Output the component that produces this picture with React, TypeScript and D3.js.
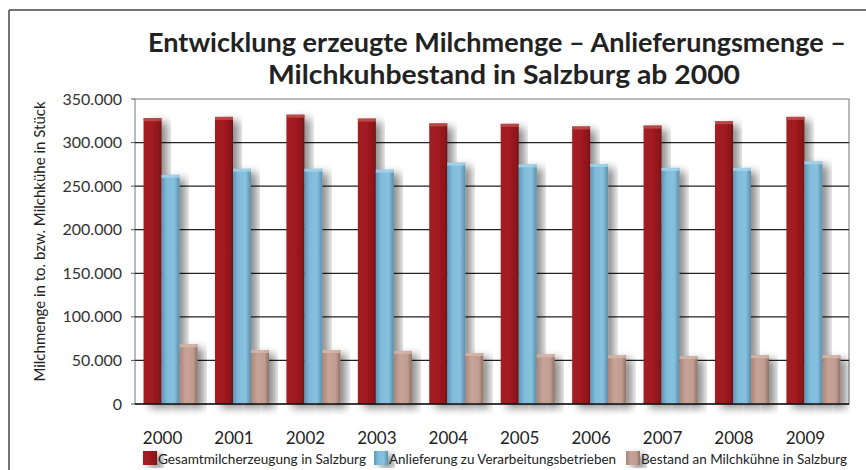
import React from "react";
import * as d3 from "d3";

const years = ["2000", "2001", "2002", "2003", "2004", "2005", "2006", "2007", "2008", "2009"];
const gesamt = [328000, 329500, 332000, 327500, 322000, 321500, 318500, 319500, 324500, 329500];
const anlieferung = [263000, 270000, 270000, 269000, 277000, 275000, 275500, 271000, 271000, 278500];
const bestand = [68500, 62000, 62000, 61000, 58500, 57000, 56000, 55000, 56000, 56000];
const seriesNames = [
  "Gesamtmilcherzeugung in Salzburg",
  "Anlieferung zu Verarbeitungsbetrieben",
  "Bestand an Milchkühne in Salzburg",
];
const yTicks = [0, 50000, 100000, 150000, 200000, 250000, 300000, 350000];

const W = 866;
const H = 470;
const margin = { top: 99, right: 17, bottom: 66, left: 135 };
const font = "Lato, 'Open Sans', sans-serif";

const fmt = (v: number) => d3.format(",")(v).replace(/,/g, ".");

const App = () => {
  const width = W - margin.left - margin.right;
  const height = H - margin.top - margin.bottom;

  const x0 = d3.scaleBand<string>().domain(years).range([0, width]).paddingInner(0.244).paddingOuter(0.12);
  const x1 = d3.scaleBand<number>().domain([0, 1, 2]).range([0, x0.bandwidth()]);
  const y = d3.scaleLinear().domain([0, 350000]).range([height, 0]);

  const data = [gesamt, anlieferung, bestand];
  const grads = ["gRed", "gBlue", "gBrown"];
  const tops = ["#c0564f", "#a9d6ee", "#d6b8ad"];

  // legend layout: swatch x and text width
  const legend = [
    { x: 143, w: 208 },
    { x: 374, w: 227 },
    { x: 626, w: 206 },
  ];

  return (
    <svg width={W} height={H} style={{ position: "absolute", left: 0, top: 0 }}>
      <defs>
        <linearGradient id="gRed" x1="0" x2="1">
          <stop offset="0" stopColor="#a31c22" />
          <stop offset="0.5" stopColor="#a01a20" />
          <stop offset="0.85" stopColor="#8e161b" />
          <stop offset="1" stopColor="#6e1014" />
        </linearGradient>
        <linearGradient id="gBlue" x1="0" x2="1">
          <stop offset="0" stopColor="#5e97b6" />
          <stop offset="0.3" stopColor="#80bcd9" />
          <stop offset="0.7" stopColor="#86c1dd" />
          <stop offset="1" stopColor="#5b8fab" />
        </linearGradient>
        <linearGradient id="gBrown" x1="0" x2="1">
          <stop offset="0" stopColor="#a98679" />
          <stop offset="0.35" stopColor="#c7a497" />
          <stop offset="0.75" stopColor="#c09d90" />
          <stop offset="1" stopColor="#8f7064" />
        </linearGradient>
        <filter id="shadow" x="-50%" y="-20%" width="200%" height="140%">
          <feDropShadow dx="6" dy="4" stdDeviation="4" floodColor="#000" floodOpacity="0.45" />
        </filter>
      </defs>

      {/* frame */}
      <line x1={9} x2={W} y1={10} y2={10} stroke="#444" strokeWidth={1.5} />
      <line x1={9} x2={9} y1={10} y2={H} stroke="#444" strokeWidth={1.5} />

      {/* title */}
      <text x={148} y={52} textLength={698} lengthAdjust="spacingAndGlyphs" fontFamily={font} fontWeight={700} fontSize={27} fill="#222">
        Entwicklung erzeugte Milchmenge – Anlieferungsmenge –
      </text>
      <text x={268} y={84} textLength={472} lengthAdjust="spacingAndGlyphs" fontFamily={font} fontWeight={700} fontSize={27} fill="#222">
        Milchkuhbestand in Salzburg ab 2000
      </text>

      <g transform={`translate(${margin.left},${margin.top})`}>
        {/* plot frame */}
        <rect x={0} y={0} width={width} height={height} fill="none" stroke="#777" strokeWidth={1} />

        {/* grid */}
        {yTicks.map((t) => (
          <g key={t}>
            {t > 0 && t < 350000 && (
              <line x1={0} x2={width} y1={y(t)} y2={y(t)} stroke="#222" strokeWidth={1.2} />
            )}
            <line x1={-4} x2={0} y1={y(t)} y2={y(t)} stroke="#555" />
            <text x={-13} y={y(t)} dy="0.35em" textAnchor="end" fontFamily={font} fontSize={16} fill="#333">
              {fmt(t)}
            </text>
          </g>
        ))}

        {/* bars */}
        {years.map((yr, i) => (
          <g key={yr} transform={`translate(${x0(yr)},0)`}>
            {data.map((s, k) => (
              <g key={k} filter="url(#shadow)">
                <rect x={x1(k)} y={y(s[i])} width={x1.bandwidth()} height={height - y(s[i])} fill={`url(#${grads[k]})`} />
                <rect x={x1(k)} y={y(s[i])} width={x1.bandwidth()} height={3} fill={tops[k]} opacity={0.8} />
              </g>
            ))}
          </g>
        ))}

        <line x1={0} x2={width} y1={height} y2={height} stroke="#111" strokeWidth={1.5} />

        {/* x labels */}
        {years.map((yr) => (
          <text
            key={yr}
            x={(x0(yr) as number) + x0.bandwidth() / 2 - 8}
            y={height + 40}
            textAnchor="middle"
            fontFamily={font}
            fontSize={17}
            fill="#222"
          >
            {yr}
          </text>
        ))}
      </g>

      {/* y axis title */}
      <text
        transform={`translate(45,${margin.top + height / 2 - 10}) rotate(-90)`}
        textAnchor="middle"
        fontFamily={font}
        fontSize={15}
        fill="#222"
      >
        Milchmenge in to. bzw. Milchkühe in Stück
      </text>

      {/* legend */}
      {legend.map((l, k) => (
        <g key={k} transform={`translate(${l.x},451)`}>
          <rect x={0} y={0} width={14} height={14} fill={`url(#${grads[k]})`} filter="url(#shadow)" />
          <text x={15} y={12.5} textLength={l.w} lengthAdjust="spacingAndGlyphs" fontFamily={font} fontSize={14} fill="#222">
            {seriesNames[k]}
          </text>
        </g>
      ))}
    </svg>
  );
};

export default App;
